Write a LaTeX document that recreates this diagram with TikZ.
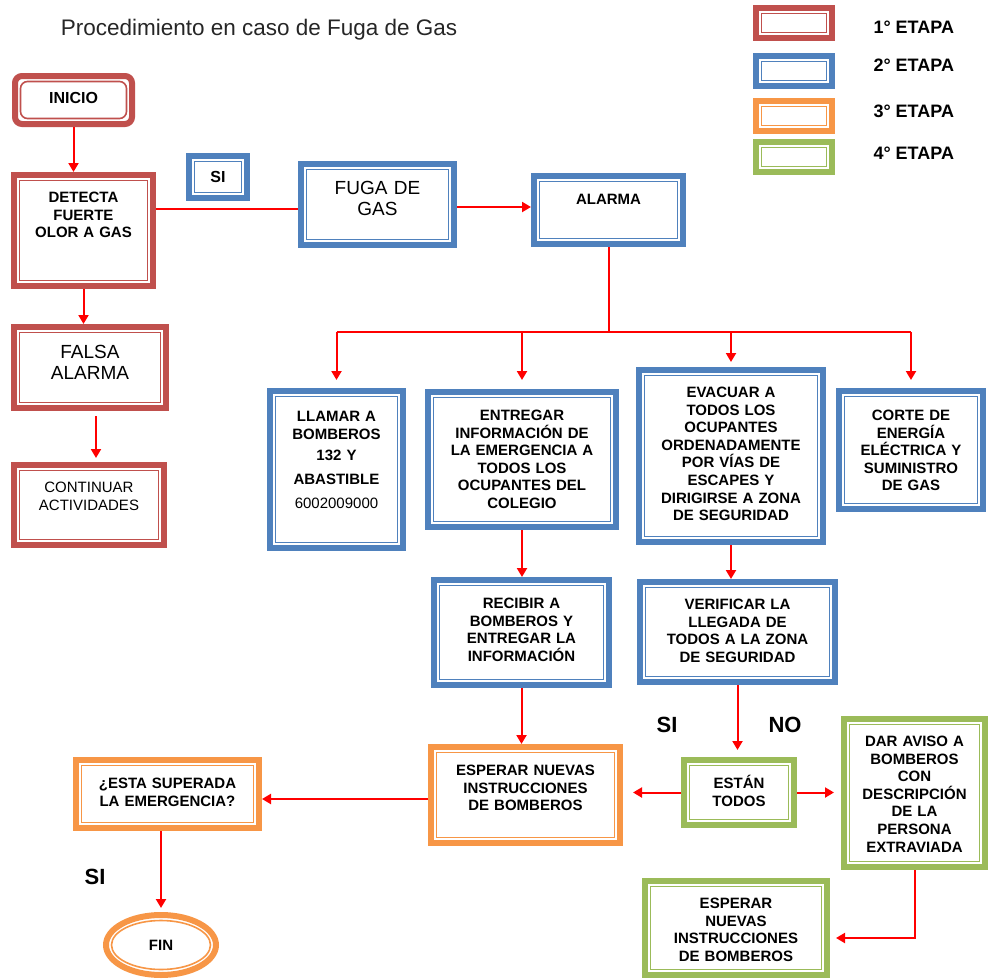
\documentclass[tikz,border=0pt]{standalone}
\usepackage{fontspec}
\setmainfont{Liberation Sans}
\usepackage{tikz}
\usetikzlibrary{arrows.meta, shapes.geometric}
\definecolor{etapa1}{HTML}{C0504D}
\definecolor{etapa2}{HTML}{4F81BD}
\definecolor{etapa3}{HTML}{F79646}
\definecolor{etapa4}{HTML}{9BBB59}

\begin{document}
\begin{tikzpicture}[x=1pt, y=-1pt, >={Triangle[length=9pt, width=10pt]}]
    \tikzset{etapa/.style={draw=#1, line width=6pt, outer sep=3pt, fill=white, anchor=north, align=center, inner xsep=2pt, text height=11pt,
        font={\fontsize{15}{17.6}\selectfont\bfseries},
        path picture={\draw[#1, line width=1.6pt] ([shift={(5.5pt,5.5pt)}]path picture bounding box.south west) rectangle ([shift={(-5.5pt,-5.5pt)}]path picture bounding box.north east);}}}
    \tikzstyle{flecha}=[->, draw=red, line width=2pt]
    \tikzstyle{flecha gruesa}=[->, draw=red, line width=2.5pt]
    \tikzstyle{linea}=[draw=red, line width=2pt]
    \tikzstyle{rotulo}=[font={\fontsize{22}{24}\selectfont\bfseries}]
    \tikzstyle{leyenda}=[font={\fontsize{18}{20}\selectfont\bfseries}, anchor=west]

\useasboundingbox (0,0) rectangle (989,980);

\node[font={\fontsize{22.5}{26}\selectfont}, text=black!85] (titulo) at (259,30) {Procedimiento en caso de Fuga de Gas};

% leyenda
\foreach \c/\y/\ty [count=\i] in {etapa1/5/27, etapa2/53/65, etapa3/98/111, etapa4/139/153} {
    \node[etapa=\c, minimum width=76pt, minimum height=30pt] (ley\i) at (794,\y) {};
    \node[leyenda] (tley\i) at (870,\ty) {\i° ETAPA};
}

% 1 etapa
\node[etapa=etapa1, rounded corners=7pt, text width=113pt, text height=11.5pt, inner ysep=16.2pt, text depth=4.1pt, font={\fontsize{16}{18}\selectfont\bfseries}] (inicio) at (73.5,73) {INICIO};
\node[etapa=etapa1, text width=135pt, inner ysep=16.4pt, text depth=67.2pt] (detecta) at (83.5,172) {DETECTA\\FUERTE\\OLOR A GAS};
\node[etapa=etapa1, text width=148pt, font={\fontsize{19}{20.5}\selectfont}, text height=13.6pt, inner ysep=18.2pt, text depth=31pt] (falsa) at (90,324) {FALSA\\ALARMA};
\node[etapa=etapa1, text width=146pt, font={\fontsize{15}{18}\selectfont}, text height=10.7pt, inner ysep=16.7pt, text depth=35.9pt] (continuar) at (89,462) {CONTINUAR\\ACTIVIDADES};

% 2 etapa
\node[etapa=etapa2, text width=54pt, font={\fontsize{16}{18}\selectfont\bfseries}, text height=11.5pt, inner ysep=15.25pt, text depth=0pt] (si) at (218,153) {SI};
\node[etapa=etapa2, text width=149pt, font={\fontsize{19}{21}\selectfont}, text height=13.6pt, inner ysep=17.2pt, text depth=33pt] (fuga) at (377.5,161) {FUGA DE\\GAS};
\node[etapa=etapa2, text width=145pt, inner ysep=17.4pt, text depth=22.2pt] (alarma) at (608.5,173) {ALARMA};
\node[etapa=etapa2, text width=129pt, inner ysep=19.4pt, text depth=107.2pt] (llamar) at (336.5,388) {LLAMAR A\\BOMBEROS\\[4pt]132 Y\\[6pt]ABASTIBLE\\[7pt]{\mdseries 6002009000}};
\node[etapa=etapa2, text width=184pt, inner ysep=17.4pt, text depth=89.2pt] (entregar) at (522,389) {ENTREGAR\\INFORMACIÓN DE\\LA EMERGENCIA A\\TODOS LOS\\OCUPANTES DEL\\COLEGIO};
\node[etapa=etapa2, text width=180pt, inner ysep=16.4pt, text depth=128.2pt] (evacuar) at (731,367) {EVACUAR A\\TODOS LOS\\OCUPANTES\\ORDENADAMENTE\\POR VÍAS DE\\ESCAPES Y\\DIRIGIRSE A ZONA\\DE SEGURIDAD};
\node[etapa=etapa2, text width=140pt, inner ysep=18.4pt, text depth=70.2pt] (corte) at (911,388) {CORTE DE\\ENERGÍA\\ELÉCTRICA Y\\SUMINISTRO\\DE GAS};
\node[etapa=etapa2, text width=171pt, inner ysep=17.4pt, text depth=59.2pt] (recibir) at (521.5,577) {RECIBIR A\\BOMBEROS Y\\ENTREGAR LA\\INFORMACIÓN};
\node[etapa=etapa2, text width=191pt, inner ysep=16.4pt, text depth=56.2pt] (verificar) at (737.5,579) {VERIFICAR LA\\LLEGADA DE\\TODOS A LA ZONA\\DE SEGURIDAD};

% 3 y 4 etapa
\node[etapa=etapa3, text width=185pt, inner ysep=17.4pt, text depth=50.2pt] (esperar1) at (525.5,744) {ESPERAR NUEVAS\\INSTRUCCIONES\\DE BOMBEROS};
\node[etapa=etapa4, text width=106pt, inner ysep=17.4pt, text depth=19.2pt] (estan) at (739,757) {ESTÁN\\TODOS};
\node[etapa=etapa4, text width=137pt, inner ysep=16.4pt, text depth=104.2pt] (aviso) at (914.5,716) {DAR AVISO A\\BOMBEROS\\CON\\DESCRIPCIÓN\\DE LA\\PERSONA\\EXTRAVIADA};
\node[etapa=etapa4, text width=178pt, inner ysep=16.4pt, text depth=50.2pt] (esperar2) at (736,878) {ESPERAR\\NUEVAS\\INSTRUCCIONES\\DE BOMBEROS};
\node[etapa=etapa3, text width=179pt, inner ysep=17.4pt, text depth=22.2pt] (superada) at (167.5,757) {¿ESTA SUPERADA\\LA EMERGENCIA?};
\node[etapa=etapa3, ellipse, inner sep=0pt, minimum width=110pt, minimum height=60pt,
    path picture={\draw[etapa3, line width=1.6pt] (path picture bounding box.center) ellipse [x radius=49.5pt, y radius=24.5pt];}] (fin) at (161,912) {FIN};

\node[rotulo] (si2) at (667,725) {SI};
\node[rotulo] (no) at (785,725) {NO};
\node[rotulo] (si3) at (95,877) {SI};

% conectores
\draw[flecha] (inicio.south) -- (inicio.south |- detecta.north);
\draw[flecha] (detecta.south) -- (detecta.south |- falsa.north);
\draw[flecha, shorten <=5pt, shorten >=4pt] ([xshift=6pt]falsa.south) -- ([xshift=6pt]falsa.south |- continuar.north);
\draw[linea] ([yshift=-4.5pt]fuga.west) -- ([yshift=-4.5pt]fuga.west -| detecta.east);
\draw[flecha] ([yshift=-2.5pt]fuga.east) -- ([yshift=-2.5pt]fuga.east -| alarma.west);

\coordinate (bus) at (606,332);
\draw[linea] (alarma.south) -- (alarma.south |- bus);
\draw[linea] (llamar.north |- bus) -- (corte.north |- bus);
\foreach \n/\s in {llamar/8pt, entregar/9pt, evacuar/5pt, corte/8pt}
    \draw[flecha, shorten >=\s] (\n.north |- bus) -- (\n.north);

\draw[flecha] (entregar.south) -- (entregar.south |- recibir.north);
\draw[flecha] (evacuar.south) -- (evacuar.south |- verificar.north);
\draw[flecha] (recibir.south) -- (recibir.south |- esperar1.north);
\draw[flecha, shorten >=7pt] (verificar.south) -- (verificar.south |- estan.north);
\draw[flecha, shorten >=10pt] (estan.west) -- (estan.west -| esperar1.east);
\draw[flecha, shorten >=7pt] (estan.east) -- (estan.east -| aviso.west);
\draw[flecha gruesa] ([yshift=-4pt]esperar1.west) -- ([yshift=-4pt]esperar1.west -| superada.east);
\draw[flecha, shorten >=4pt] (fin.north |- superada.south) -- (fin.north);
\draw[flecha, shorten >=6pt] (aviso.south) |- ([yshift=-10pt]esperar2.east);
\end{tikzpicture}
\end{document}
